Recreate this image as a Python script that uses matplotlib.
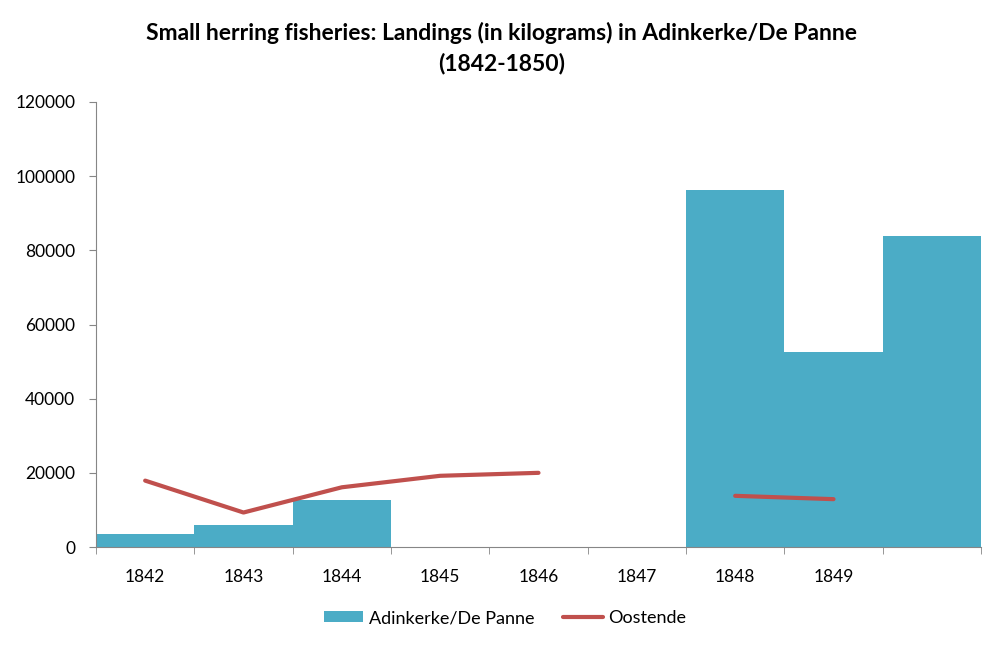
import matplotlib
matplotlib.use("Agg")
import matplotlib.pyplot as plt
import numpy as np

plt.rcParams["font.family"] = ["Lato", "DejaVu Sans"]

# datos
years = ["1842", "1843", "1844", "1845", "1846", "1847", "1848", "1849", "1850"]
tick_labels = ["1842", "1843", "1844", "1845", "1846", "1847", "1848", "1849", ""]
adinkerke = [3500, 5900, 12700, 0, 0, 0, 96300, 52700, 83900]
oostende = [17900, 9300, 16100, 19200, 20000, np.nan, 13800, 12900, np.nan]

BAR_COLOR = "#4BACC6"
LINE_COLOR = "#C0504D"
AXIS_COLOR = "#868686"

fig = plt.figure(figsize=(10.04, 6.5), dpi=100)
ax = fig.add_axes([96 / 1004, 103 / 650, 885 / 1004, 445 / 650])

x = np.arange(len(years))
bars = ax.bar(x, adinkerke, width=1.0, color=BAR_COLOR, label="Adinkerke/De Panne", zorder=2)
line, = ax.plot(x, oostende, color=LINE_COLOR, linewidth=3, label="Oostende", zorder=3,
                solid_capstyle="round")

ax.set_xlim(-0.5, len(years) - 0.5)
ax.set_ylim(0, 120000)
ax.set_yticks(np.arange(0, 120001, 20000))
ax.set_yticklabels([str(v) for v in range(0, 120001, 20000)])

ax.set_xticks(x)
ax.set_xticklabels(tick_labels)
ax.set_xticks(np.arange(-0.5, len(years)), minor=True)
ax.tick_params(axis="x", which="major", length=0, pad=16, labelsize=12.5)
ax.tick_params(axis="x", which="minor", length=5, color=AXIS_COLOR, direction="out")
ax.tick_params(axis="y", length=5, color=AXIS_COLOR, pad=10, labelsize=12.5)

for s in ["top", "right"]:
    ax.spines[s].set_visible(False)
for s in ["left", "bottom"]:
    ax.spines[s].set_color(AXIS_COLOR)
    ax.spines[s].set_zorder(4)

fig.text(0.5, 1 - 33 / 650, "Small herring fisheries: Landings (in kilograms) in Adinkerke/De Panne",
         ha="center", va="center", fontsize=16.5, fontweight="bold")
fig.text(0.5, 1 - 63 / 650, "(1842-1850)",
         ha="center", va="center", fontsize=16.5, fontweight="bold")

fig.legend([bars, line], ["Adinkerke/De Panne", "Oostende"],
           loc="center", bbox_to_anchor=(505 / 1004, 1 - 618 / 650), ncol=2,
           frameon=False, fontsize=13, handlelength=2.2, handleheight=0.5,
           handletextpad=0.3, columnspacing=1.6)

fig.savefig("out.png", dpi=100)
